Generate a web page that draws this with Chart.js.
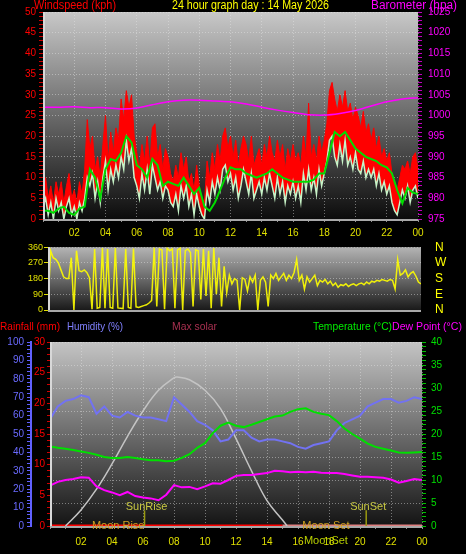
<!DOCTYPE html>
<html><head><meta charset="utf-8">
<script src="https://cdn.jsdelivr.net/npm/chart.js@4/dist/chart.umd.min.js"></script>
<style>
html,body{margin:0;padding:0;background:#000;width:466px;height:554px;overflow:hidden}
canvas{position:absolute;left:0}
#c1{top:0}#c2{top:240px}#c3{top:318px}
</style></head><body>
<canvas id="c1" width="466" height="245"></canvas>
<canvas id="c2" width="466" height="80"></canvas>
<canvas id="c3" width="466" height="236"></canvas>
<script>
// ---------- DATA ----------
const xTickLabels = ['00','02','04','06','08','10','12','14','16','18','20','22','00'];
const dirLabels = ['N','E','S','W','N'];
// wind gust (km/h), 10-minute samples 00:00..24:00
const gust10 = [
 7,10,5,8,4,9, 6,9,4,8,11,5, 7,4,9,6,12,24, 17,20,12,15,10,18,
 25,14,21,16,22,19, 29,24,31,27,30,20, 16,12,18,14,20,13, 22,23,15,18,12,17,
 15,11,9,13,10,16, 12,15,9,11,7,13, 8,5,4,14,10,16, 12,18,14,20,22,17,
 20,15,19,13,17,20, 18,14,20,13,15,17, 13,18,15,20,16,14, 19,15,18,12,17,14,
 18,14,16,13,20,15, 28,15,18,14,20,16, 19,23,31,33,29,26, 30,27,31,26,28,24,
 27,25,22,26,21,23, 19,22,17,20,15,17, 14,16,11,9,7,10, 13,12,14,11,15,16, 12];
// wind speed (km/h), 10-minute samples
const speed10 = [
 3,5,1,4,0,5, 2,4,0,3,5,1, 3,0,4,2,5,10, 8,11,5,9,4,10,
 14,7,12,9,13,10, 15,12,19,14,17,10, 8,5,11,7,12,6, 13,10,7,9,5,8,
 7,4,3,6,2,8, 5,8,3,6,1,6, 3,1,0,7,4,9, 6,10,7,12,13,9,
 11,7,10,5,8,12, 9,6,11,5,7,9, 6,10,7,11,8,5, 10,6,9,4,8,6,
 9,5,8,4,11,7, 12,7,10,6,12,8, 11,14,19,20,15,13, 18,14,19,13,15,12,
 16,12,11,14,10,12, 10,12,8,11,7,9, 6,8,4,2,1,4, 7,5,8,4,7,8, 5];
// average wind speed (km/h), 20-minute samples
const avg20 = [
 2,2,1.5, 2.5,3,1.5, 1,2.5,3, 12,10,5, 12,14.5,14, 16,20,18.5, 13,12,10, 14.5,13,8,
 9,8.5,8, 10,8,6, 7.5,3,2, 4,7,10, 12.5,12,12, 11,10.5,10, 10.5,11,12, 11,10,9.5,
 9,9,9, 9,9.5,11, 11,16,21, 20,21,19, 17,16,15, 14.5,14,13, 12.5,11,7, 3.8,7.5,6.4, 6];
// barometer (hPa), hourly
const baroHourly = [1002.0,1002.0,1002.1,1001.9,1001.9,1001.6,1001.8,1002.6,1003.3,1003.7,1003.7,1003.5,
 1003.3,1002.8,1002.0,1001.3,1000.7,1000.2,1000.1,1000.5,1001.2,1002.3,1003.3,1004.0,1004.3];
// wind direction (degrees), 10-minute samples
const windDir10 = [
 20,340,300,290,270,230, 190,180,180,300,0,340, 225,220,230,215,185,5, 350,10,15,355,10,350,
 15,10,355,12,10,8, 350,15,10,352,18,15, 20,25,30,40,55,358, 20,350,345,5,355,340,
 350,10,345,355,0,340, 350,330,20,345,340,60, 350,80,340,10,355,90, 300,20,250,100,200,150,
 180,170,0,185,175,110, 190,160,200,0,170,190, 160,20,200,180,210,170, 190,210,170,200,180,215,
 290,170,200,120,190,160, 180,200,140,170,160,175, 150,165,140,155,130,145, 140,150,135,145,150,140,
 150,155,145,160,150,165, 160,170,165,175,170,165, 175,170,120,290,200,210, 230,190,210,220,195,160, 150];
// humidity (%), 30-minute samples
const humidity30 = [58,65, 68,69, 71,70, 61,65, 60,59, 62,60, 59,59, 58,57, 70,66, 62,57, 55,52, 46,47,
 52,52, 48,46, 47,47, 46,45, 43,42, 44,45, 46,52, 56,58, 60,65, 67,69, 69,67, 68,70, 69];
// temperature (°C), 30-minute samples
const temperature30 = [17.3,17.0, 16.8,16.5, 16.2,15.9, 15.5,15.0, 14.8,14.8, 15.0,14.8, 14.5,14.3, 14.3,14.1,
 14.2,14.8, 15.6,17.0, 18.0,20.2, 21.8,22.5, 21.8,21.5, 22.0,22.6, 23.2,23.8, 24.0,24.8, 25.4,25.6,
 24.8,24.4, 24.1,22.8, 21.2,20.0, 19.0,17.9, 17.2,16.8, 16.4,16.0, 15.9,16.0, 16.1];
// dew point (°C), 30-minute samples
const dewPoint30 = [8.8,9.6, 10.0,10.2, 10.6,10.5, 8.6,7.8, 7.3,6.7, 7.4,6.5, 6.2,6.0, 5.6,6.8, 8.9,8.4,
 8.5,8.0, 8.6,9.3, 9.2,10.0, 10.9,11.1, 11.1,11.3, 11.5,12.0, 11.9,11.7, 11.8,11.7, 11.8,11.6,
 11.5,11.5, 11.3,11.0, 10.7,10.7, 10.6,10.5, 10.1,9.4, 9.8,10.2, 10.0];
// max solar curve (read on the right-hand scale)
const solarHours = [1.0,2,3,4,5,6,7,8,8.2,9,10,11,12,13,14,15,15.3];
const solarValues = [0,3.5,8,13.5,19.5,25,29.5,32.2,32.4,31.8,29.5,25.5,19,12,5.5,1.3,0];
// rainfall (mm), hourly
const rainHourly = [0,0,0,0,0,0,0,0,0,0,0,0,0,0,0,0,0,0,0,0,0,0,0,0,0];
const redRainUntil = 15.3;
const sunriseHour = 6.1, sunsetHour = 20.4, moonriseHour = 4.4, moonsetHour = 17.8;

// ---------- HELPERS ----------
const FONT = '"Liberation Sans", Arial, sans-serif';
Chart.defaults.font.family = FONT;
Chart.defaults.font.size = 10;
const GRID = 'rgba(230,230,230,0.45)';
const toXY = (vals, step) => vals.map((v, i) => ({x: i * step, y: v}));
const toXYt = (ts, vals) => vals.map((v, i) => ({x: ts[i], y: v}));
const every = n => c => (c.tick && Math.round(c.tick.value) % n === 0) ? GRID : 'transparent';
const labEvery = n => v => (Math.round(v) % n === 0 ? String(v) : '');

const bgPlugin = {
  id: 'panelBg',
  beforeDraw(chart, args, o) {
    const {ctx, chartArea: {left, top, right, bottom}} = chart;
    const g = ctx.createLinearGradient(0, top, 0, bottom);
    o.stops.forEach(s => g.addColorStop(s[0], s[1]));
    ctx.save(); ctx.fillStyle = g; ctx.fillRect(left, top, right - left, bottom - top); ctx.restore();
  },
  afterDatasetsDraw(chart) {
    const {ctx, chartArea: {left, top, right, bottom}} = chart;
    ctx.save();
    ctx.fillStyle = '#d8d8d8'; ctx.fillRect(left, top, 2, bottom - top + 2);
    ctx.fillStyle = '#a8a8a8'; ctx.fillRect(left, bottom, right - left, 2);
    ctx.restore();
  }
};
const textPlugin = {
  id: 'panelText',
  afterDraw(chart, args, o) {
    const ctx = chart.ctx;
    ctx.save();
    ctx.textBaseline = 'middle'; ctx.textAlign = 'left';
    o.items.forEach(it => {
      ctx.font = it.size + 'px ' + FONT; ctx.fillStyle = it.color;
      ctx.fillText(it.text, it.x, it.y, it.w);
    });
    ctx.restore();
  }
};
function xAxis(h, pad) {
  return {
    type: 'linear', min: 0, max: 24, position: 'bottom',
    afterFit: s => { s.height = h; },
    ticks: {stepSize: 1, autoSkip: false, maxRotation: 0, color: '#e0e000', padding: pad,
      callback: v => (v % 2 === 0 && v > 0) ? xTickLabels[v / 2] : ''},
    grid: {color: every(2), tickColor: '#909090', tickLength: 3},
    border: {display: false, dash: [1, 2]}
  };
}

// ---------- CHART 1: wind speed + barometer ----------
new Chart(document.getElementById('c1'), {
  type: 'line',
  data: {datasets: [
    {label: 'Barometer', data: toXY(baroHourly, 1), yAxisID: 'y2', borderColor: '#ff00ff', borderWidth: 1.5, pointRadius: 0, tension: 0.3, fill: false},
    {label: 'Average', data: toXY(avg20, 1/3), yAxisID: 'y', borderColor: '#00dd00', borderWidth: 2, pointRadius: 0, fill: false},
    {label: 'Speed', data: toXY(speed10, 1/6), yAxisID: 'y', borderColor: '#c8f4c8', borderWidth: 1.5, pointRadius: 0, fill: false},
    {label: 'Gust', data: toXY(gust10, 1/6), yAxisID: 'y', borderColor: '#ff0000', borderWidth: 1, pointRadius: 0, fill: 2, backgroundColor: '#ff0000'}
  ]},
  options: {
    responsive: false, animation: false, devicePixelRatio: 1,
    layout: {padding: {top: 11, left: 0, right: 0, bottom: 0}},
    plugins: {legend: {display: false}, tooltip: {enabled: false},
      panelBg: {stops: [[0, '#c8c8c8'], [0.5, '#6a6a6a'], [1, '#0c0c0c']]},
      panelText: {items: [
        {text: 'Windspeed (kph)', x: 34, y: 6, w: 82, size: 12, color: '#ff0000'},
        {text: '24 hour graph day : 14 May 2026', x: 172, y: 6, w: 157, size: 12, color: '#ffff00'},
        {text: 'Barometer (hpa)', x: 371, y: 6, w: 86, size: 12, color: '#ff00ff'}
      ]}},
    scales: {
      x: xAxis(26, 5),
      y: {type: 'linear', position: 'left', min: 0, max: 50, afterFit: s => { s.width = 43; },
        ticks: {stepSize: 1, autoSkip: false, color: '#ff0000', padding: 3, callback: labEvery(5)},
        grid: {color: every(5), tickColor: '#d00000', tickLength: 4},
        border: {display: false, dash: [1, 2]}},
      y2: {type: 'linear', position: 'right', min: 975, max: 1025, afterFit: s => { s.width = 48; },
        ticks: {stepSize: 1, autoSkip: false, color: '#ff00ff', padding: 6, callback: labEvery(5)},
        grid: {drawOnChartArea: false, tickColor: '#c000c0', tickLength: 4},
        border: {display: false}}
    }
  },
  plugins: [bgPlugin, textPlugin]
});

// ---------- CHART 2: wind direction ----------
new Chart(document.getElementById('c2'), {
  type: 'line',
  data: {datasets: [
    {label: 'Direction', data: toXY(windDir10, 1/6), borderColor: 'rgba(255,255,0,0.9)', borderWidth: 1.5, pointRadius: 0, fill: false}
  ]},
  options: {
    responsive: false, animation: false, devicePixelRatio: 1,
    layout: {padding: {top: 7, bottom: 10}},
    plugins: {legend: {display: false}, tooltip: {enabled: false},
      panelBg: {stops: [[0, '#b4b4b4'], [0.5, '#6a6a6a'], [1, '#1a1a1a']]}},
    scales: {
      x: {type: 'linear', min: 0, max: 24, display: false},
      y: {type: 'linear', position: 'left', min: 0, max: 360, afterFit: s => { s.width = 48; },
        ticks: {stepSize: 90, autoSkip: false, color: '#e0e000', padding: 1, font: {size: 9}},
        grid: {color: GRID, tickColor: '#e0e000', tickLength: 4},
        border: {display: false, dash: [1, 2]}},
      y2: {type: 'linear', position: 'right', min: 0, max: 360, afterFit: s => { s.width = 45; },
        ticks: {stepSize: 90, autoSkip: false, color: '#ffff00', padding: 0, font: {size: 12}, callback: v => dirLabels[v / 90]},
        grid: {drawOnChartArea: false, drawTicks: true, tickLength: 14, tickColor: 'transparent'},
        border: {display: false}}
    }
  },
  plugins: [bgPlugin]
});

// ---------- CHART 3: temperature / humidity / rain ----------
const astroPlugin = {
  id: 'astro',
  afterDatasetsDraw(chart) {
    const {ctx, scales: {x, yT}} = chart;
    const bottom = chart.chartArea.bottom;
    ctx.save();
    ctx.font = '11px ' + FONT; ctx.textAlign = 'center'; ctx.textBaseline = 'middle';
    [[sunriseHour, 'SunRise'], [sunsetHour, 'SunSet']].forEach(([h, t]) => {
      const px = x.getPixelForValue(h);
      ctx.strokeStyle = '#9a9a10'; ctx.lineWidth = 1.5;
      ctx.beginPath(); ctx.moveTo(px, yT.getPixelForValue(3.4)); ctx.lineTo(px, bottom); ctx.stroke();
      ctx.fillStyle = '#c8c840'; ctx.fillText(t, px + 2, yT.getPixelForValue(4.1));
    });
    ctx.fillStyle = '#d0a020';
    ctx.fillText('Moon Rise', x.getPixelForValue(moonriseHour), bottom);
    ctx.fillText('Moon Set', x.getPixelForValue(moonsetHour), bottom);
    ctx.fillStyle = '#b8d000';
    ctx.fillText('MoonSet', x.getPixelForValue(moonsetHour), bottom + 15);
    ctx.restore();
  }
};
new Chart(document.getElementById('c3'), {
  type: 'line',
  data: {datasets: [
    {label: 'Dew Point', data: toXY(dewPoint30, 0.5), yAxisID: 'yT', borderColor: '#ff00ff', borderWidth: 2, pointRadius: 0, fill: false},
    {label: 'Temperature', data: toXY(temperature30, 0.5), yAxisID: 'yT', borderColor: '#00e000', borderWidth: 2, pointRadius: 0, fill: false},
    {label: 'Humidity', data: toXY(humidity30, 0.5), yAxisID: 'yH', borderColor: '#7272f2', borderWidth: 2, pointRadius: 0, fill: false},
    {label: 'Max solar', data: toXYt(solarHours, solarValues), yAxisID: 'yT', borderColor: '#c4c4c4', borderWidth: 1.5, pointRadius: 0, tension: 0.4, fill: false},
    {label: 'Rainfall', data: toXY(rainHourly, 1), yAxisID: 'yR', borderWidth: 3, pointRadius: 0, fill: false,
      borderColor: '#e08080',
      segment: {borderColor: c => c.p1.parsed.x <= Math.floor(redRainUntil) ? '#ff0000' : '#e08080'}}
  ]},
  options: {
    responsive: false, animation: false, devicePixelRatio: 1,
    layout: {padding: {top: 24}},
    plugins: {legend: {display: false}, tooltip: {enabled: false},
      panelBg: {stops: [[0, '#c4c4c4'], [0.5, '#6c6c6c'], [1, '#141414']]},
      panelText: {items: [
        {text: 'Rainfall (mm)', x: 0, y: 9, w: 60, size: 11, color: '#ff0000'},
        {text: 'Humidity (%)', x: 67, y: 9, w: 56, size: 11, color: '#8080ff'},
        {text: 'Max solar', x: 172, y: 9, w: 45, size: 11, color: '#a83050'},
        {text: 'Temperature (°C)', x: 313, y: 9, w: 79, size: 11, color: '#00ee00'},
        {text: 'Dew Point (°C)', x: 392, y: 9, w: 70, size: 11, color: '#ff00ff'}
      ]}},
    scales: {
      x: xAxis(28, 7),
      yH: {type: 'linear', position: 'left', weight: 1, min: 0, max: 100, afterFit: s => { s.width = 31; },
        ticks: {stepSize: 2, autoSkip: false, color: '#6a6aff', padding: 3, callback: labEvery(10)},
        grid: {drawOnChartArea: false, tickColor: '#6060ff', tickLength: 4},
        border: {display: true, color: '#6060ff', width: 2}},
      yR: {type: 'linear', position: 'left', weight: 0, min: 0, max: 30, afterFit: s => { s.width = 19; },
        ticks: {stepSize: 1, autoSkip: false, color: '#ff0000', padding: 2, callback: labEvery(5)},
        grid: {drawOnChartArea: false, tickColor: '#d00000', tickLength: 3},
        border: {display: false}},
      yT: {type: 'linear', position: 'right', min: 0, max: 40, afterFit: s => { s.width = 44; },
        ticks: {stepSize: 1, autoSkip: false, color: '#00e000', padding: 5, callback: labEvery(5)},
        grid: {color: every(5), tickColor: '#00c000', tickLength: 4},
        border: {display: false, dash: [1, 2]}}
    }
  },
  plugins: [bgPlugin, textPlugin, astroPlugin]
});
</script>
</body></html>
